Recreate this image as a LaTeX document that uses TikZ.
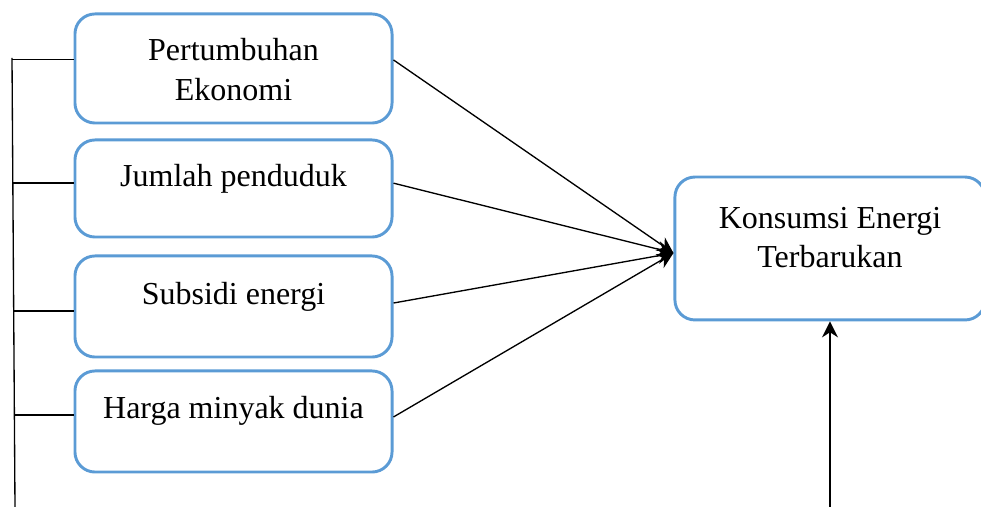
\documentclass[tikz,border=0pt]{standalone}
\usepackage{fontspec}
\setmainfont{Liberation Serif}
\usepackage{tikz}
\usetikzlibrary{calc,arrows.meta}

\definecolor{boxblue}{HTML}{5B9BD5}

\tikzset{
    box/.style={draw=boxblue, line width=1.1pt, rounded corners=7.5pt,
        minimum width=118.9pt, inner sep=0pt},
    lbl/.style={align=center, font=\fontsize{12}{14.5}\selectfont, inner sep=0pt},
    link/.style={line width=0.5pt},
}

\begin{document}
\begin{tikzpicture}[x=0.375pt, y=-0.375pt, >={Stealth[length=6pt, width=6pt]}]
    % Fix the frame of the picture
    \useasboundingbox (0,0) rectangle (981,507);

    % Draw the factor boxes
    \node[box, minimum height=40.9pt] (eko) at (233.5,68.5) {};
    \node[box, minimum height=36.4pt] (jml) at (233.5,188.5) {};
    \node[box, minimum height=37.9pt] (sub) at (233.5,306.5) {};
    \node[box, minimum height=37.9pt] (hrg) at (233.5,421.5) {};

    % Draw the target box (cut off at the right edge)
    \begin{scope}
        \clip (0,0) rectangle (981,507);
        \node[box, minimum width=116.3pt, minimum height=53.6pt] (kon) at (830,248.5) {};
    \end{scope}

    % Write the texts
    \node[lbl, font=\fontsize{12}{15}\selectfont] (teko) at ([yshift=-0.3pt]eko.center) {Pertumbuhan\\Ekonomi};
    \node[lbl] (tjml) at ([yshift=3.75pt]jml.center) {Jumlah penduduk};
    \node[lbl] (tsub) at ([yshift=3.6pt]sub.center) {Subsidi energi};
    \node[lbl] (thrg) at ([yshift=4pt]hrg.center) {Harga minyak dunia};
    \node[lbl] (tkon) at ([yshift=4pt]kon.center) {Konsumsi Energi\\Terbarukan};

    % Draw the left bracket
    \coordinate (top) at (12,58);
    \coordinate (bot) at (15,507);
    \draw[link] (top) -- (bot);
    \draw[link] (12,59.5) -- (eko.west |- 0,59.5);
    \draw[link] (13,183) -- (jml.west |- 0,183);
    \draw[link] (14,311) -- (sub.west |- 0,311);
    \draw[link] (14.5,415) -- (hrg.west |- 0,415);

    % Draw the arrows into the target
    \coordinate (hit) at ([yshift=-1.7pt]kon.west);
    \draw[link,->] ([yshift=3.2pt]eko.east) -- (hit);
    \draw[link,->] ([yshift=2pt]jml.east) -- (hit);
    \draw[link,->] ([yshift=1.3pt]sub.east) -- (hit);
    \draw[link,->] ([yshift=1.7pt]hrg.east) -- (hit);

    % Draw the arrow from below
    \coordinate (low) at (830,507);
    \draw[link,->] (low) -- (kon.south);

\end{tikzpicture}
\end{document}
